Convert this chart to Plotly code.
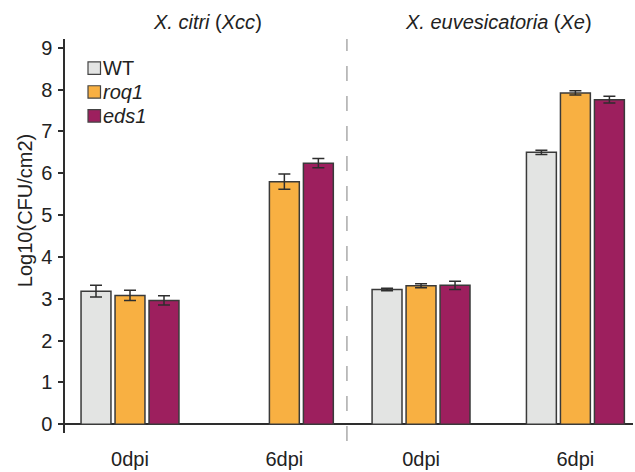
import plotly.graph_objects as go

# Bacterial growth (log10 CFU/cm2) for two Xanthomonas species at 0 and 6 dpi
tick_labels = ["0dpi", "6dpi", "0dpi", "6dpi"]
species = ["<i>X. citri</i> (<i>Xcc</i>)", "<i>X. euvesicatoria</i> (<i>Xe</i>)"]

series_names = ["WT", "roq1", "eds1"]
series_labels = ["WT", "<i>roq1</i>", "<i>eds1</i>"]
wt = [3.18, None, 3.22, 6.50]
wt_err = [0.14, 0.0, 0.03, 0.05]
roq1 = [3.08, 5.80, 3.31, 7.92]
roq1_err = [0.12, 0.18, 0.05, 0.05]
eds1 = [2.96, 6.24, 3.32, 7.76]
eds1_err = [0.11, 0.11, 0.10, 0.08]

colors = ["#e3e4e3", "#f8b042", "#9d1f5e"]

# layout: group centres on a numeric axis, one unit = one bar slot
group_pos = [0.0, 4.54, 8.56, 13.10]
offsets = [-1.0, 0.0, 1.0]
bar_width = 0.88
divider_x = 6.38

W, H = 635, 472
ML, MR, MT, MB = 65, 2, 39, 37
PW, PH = W - ML - MR, H - MT - MB

FONT = "Liberation Sans, Arial, sans-serif"
FS = 20
INK = "#2e2e2e"
TXT = "#222222"

fig = go.Figure()
values = [wt, roq1, eds1]
errors = [wt_err, roq1_err, eds1_err]
for name, vals, errs, col, off in zip(series_names, values, errors, colors, offsets):
    fig.add_trace(go.Bar(
        x=[g + off for g in group_pos],
        y=vals,
        width=bar_width,
        name=name,
        marker=dict(color=col, line=dict(color="#3a3a3a", width=1.5)),
        error_y=dict(type="data", array=errs, visible=True,
                     color=INK, thickness=1.5, width=6),
        showlegend=False,
    ))


def px_x(p):
    return (p - ML) / PW


def px_y(p):
    return (H - MB - p) / PH


shapes = [dict(type="line", xref="x", yref="paper",
               x0=divider_x, x1=divider_x, y0=-0.02, y1=1.0,
               line=dict(color="#aaaaaa", width=1.5, dash="15px,15px"))]
annotations = []

# legend drawn as boxes with labels
for i, (lab, col) in enumerate(zip(series_labels, colors)):
    cy = 68 + 24 * i
    shapes.append(dict(type="rect", xref="paper", yref="paper",
                       x0=px_x(88), x1=px_x(100.5), y0=px_y(cy + 6.5), y1=px_y(cy - 6),
                       fillcolor=col, line=dict(color="#444444", width=1.2)))
    annotations.append(dict(xref="paper", yref="paper", x=px_x(101), y=px_y(cy),
                            text=lab, showarrow=False, xanchor="left", yanchor="middle",
                            font=dict(family=FONT, size=FS, color=TXT)))

# species headers
for sp, (a, b) in zip(species, [(group_pos[0], group_pos[1]), (group_pos[2], group_pos[3])]):
    annotations.append(dict(xref="x", yref="paper", x=(a + b) / 2, y=px_y(22),
                            text=sp, showarrow=False, xanchor="center", yanchor="middle",
                            font=dict(family=FONT, size=FS, color=TXT)))

# y axis title
annotations.append(dict(xref="paper", yref="paper", x=px_x(25), y=px_y(212),
                        text="Log10(CFU/cm2)", showarrow=False, textangle=-90,
                        xanchor="center", yanchor="middle",
                        font=dict(family=FONT, size=FS, color=TXT)))

fig.update_layout(
    width=W, height=H,
    margin=dict(l=ML, r=MR, t=MT, b=MB),
    paper_bgcolor="white", plot_bgcolor="white",
    barmode="overlay",
    font=dict(family=FONT, size=FS, color=TXT),
    shapes=shapes,
    annotations=annotations,
    xaxis=dict(range=[(65 - 130) / 34, (633 - 130) / 34],
               tickvals=group_pos, ticktext=tick_labels,
               showline=False, showgrid=False, zeroline=False, ticks="",
               ticklabelstandoff=12, tickfont=dict(size=FS)),
    yaxis=dict(range=[-0.21, 9.21], dtick=1, tick0=0,
               showline=True, linecolor=INK, linewidth=1.5,
               ticks="outside", ticklen=5, tickwidth=1.5, tickcolor=INK,
               ticklabelstandoff=2,
               showgrid=False,
               zeroline=True, zerolinecolor=INK, zerolinewidth=1.5,
               tickfont=dict(size=FS)),
)

fig.write_html("out.html")
